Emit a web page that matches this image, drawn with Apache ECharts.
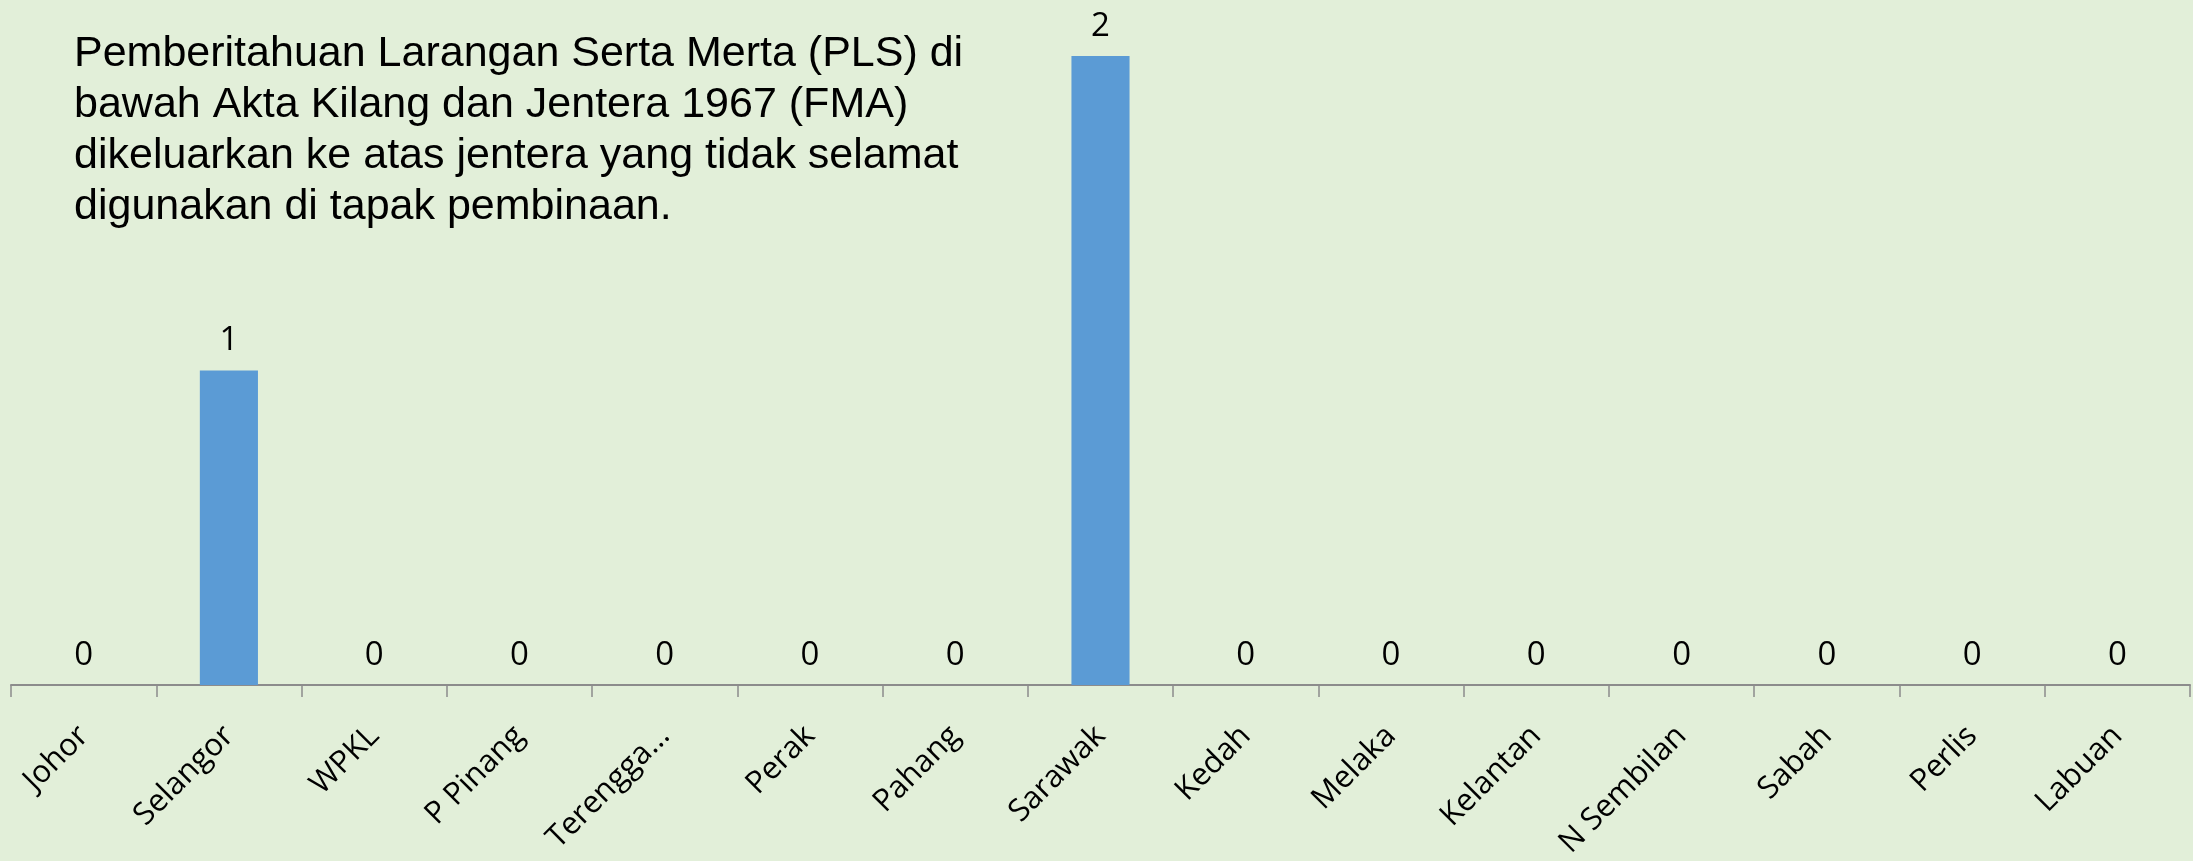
<!DOCTYPE html>
<html>
<head>
<meta charset="UTF-8">
<title>PLS FMA</title>
<style type="text/css">
    html,body{padding:0; margin:0; background:#e2efd9;}
    #main{width:2193px; height:861px;}
</style>
<script src="https://cdn.jsdelivr.net/npm/echarts@6/dist/echarts.min.js"></script>
</head>
<body>
<div id="main"></div>
<script type="text/javascript">
    var negeri = ['Johor', 'Selangor', 'WPKL', 'P Pinang', 'Terengga...', 'Perak', 'Pahang', 'Sarawak',
        'Kedah', 'Melaka', 'Kelantan', 'N Sembilan', 'Sabah', 'Perlis', 'Labuan'];
    var jumlahPLS = [0, 1, 0, 0, 0, 0, 0, 2, 0, 0, 0, 0, 0, 0, 0];
    var tajuk = 'Pemberitahuan Larangan Serta Merta (PLS) di\nbawah Akta Kilang dan Jentera 1967 (FMA)\ndikeluarkan ke atas jentera yang tidak selamat\ndigunakan di tapak pembinaan.';

    var myChart = echarts.init(document.getElementById('main'));
    var option = {
        backgroundColor: '#e2efd9',
        animation: false,
        title: {
            text: tajuk,
            left: 69,
            top: 24,
            textStyle: {
                fontFamily: 'Liberation Sans',
                fontWeight: 'normal',
                fontSize: 43,
                lineHeight: 51,
                color: '#000'
            }
        },
        grid: {left: 11, right: 3, top: 56, bottom: 174},
        xAxis: {
            type: 'category',
            data: negeri,
            axisLine: {lineStyle: {color: '#8c8c8c', width: 2}},
            axisTick: {show: true, length: 12, lineStyle: {color: '#8c8c8c', width: 1.5}},
            axisLabel: {
                rotate: 45,
                interval: 0,
                margin: 46,
                fontSize: 31,
                color: '#000',
                fontFamily: 'Open Sans'
            }
        },
        yAxis: {
            type: 'value',
            min: 0,
            max: 2,
            show: false
        },
        series: [
            {
                type: 'bar',
                data: jumlahPLS,
                barWidth: '40%',
                itemStyle: {color: '#5b9bd5'},
                label: {
                    show: true,
                    position: 'top',
                    distance: 13,
                    fontSize: 33,
                    color: '#000',
                    fontFamily: 'Open Sans'
                }
            }
        ]
    };
    myChart.setOption(option);
</script>
</body>
</html>
